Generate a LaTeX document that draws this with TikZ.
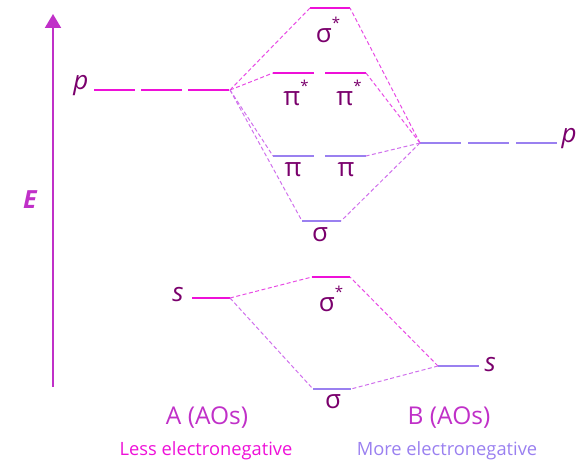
\documentclass[tikz,border=0pt]{standalone}
\usepackage{fontspec}
\setmainfont{Open Sans}
\usepackage{tikz}
\usetikzlibrary{arrows.meta}
\definecolor{levA}{HTML}{EE10D8}
\definecolor{levB}{HTML}{9A80F0}
\definecolor{lab}{HTML}{7A006C}
\definecolor{axis}{HTML}{C030C8}
\definecolor{linkA}{HTML}{E84CE4}
\definecolor{linkB}{HTML}{D070EC}
\newcommand{\str}{\raisebox{1.05ex}{\fontsize{15}{15}\selectfont *}}
\tikzset{
  lvA/.style={levA,line width=2.5pt},
  lvB/.style={levB,line width=2.5pt},
  link/.style={linkA,line width=1pt,dash pattern=on 4pt off 2.5pt},
  linkb/.style={linkB,line width=1pt,dash pattern=on 4pt off 2.5pt},
  orb/.style={lab,font=\fontsize{26}{28}\selectfont},
  ao/.style={lab,font=\fontsize{26}{28}\selectfont\itshape}
}

\begin{document}
\begin{tikzpicture}[x=1pt,y=-1pt]
        \useasboundingbox (0,0) rectangle (587,465);
        % energy axis
        \coordinate(E0) at (53,387);
        \coordinate(E1) at (53,14);
        \draw[axis,line width=2pt,-{Triangle[length=14pt,width=16pt]}](E0)--(E1);
        \node[axis,font=\fontsize{25}{26}\selectfont\bfseries\itshape](Elab) at (30,200) {E};

        % atom A, p
        \coordinate(pA0) at (94,90);
        \coordinate(pA1) at (230,90);
        \draw[lvA,dash pattern=on 41pt off 6pt](pA0)--(pA1);
        \node[ao,anchor=east](pAlab) at (92,86) {p};
        % atom B, p
        \coordinate(pB0) at (420,143);
        \coordinate(pB1) at (558,143);
        \draw[lvB,dash pattern=on 41pt off 7pt](pB0)--(pB1);
        \node[ao,anchor=west](pBlab) at (558,139) {p};

        % MOs from p
        \coordinate(sgs0) at (310,8);   \coordinate(sgs1) at (350,8);
        \coordinate(pis0) at (273,73);  \coordinate(pis1) at (314,73);
        \coordinate(pis2) at (325,73);  \coordinate(pis3) at (366,73);
        \coordinate(pi0) at (273,156);  \coordinate(pi1) at (314,156);
        \coordinate(pi2) at (325,156);  \coordinate(pi3) at (366,156);
        \coordinate(sg0) at (302,221);  \coordinate(sg1) at (341,221);
        \draw[lvA](sgs0)--(sgs1);
        \draw[lvA](pis0)--(pis1);
        \draw[lvA](pis2)--(pis3);
        \draw[lvB](pi0)--(pi1);
        \draw[lvB](pi2)--(pi3);
        \draw[lvB](sg0)--(sg1);
        \node[orb](sgslab) at (328,30) {σ\str};
        \node[orb](pislab1) at (296,93) {π\str};
        \node[orb](pislab2) at (349,93) {π\str};
        \node[orb](pilab1) at (293,170) {π};
        \node[orb](pilab2) at (346,170) {π};
        \node[orb](sglab) at (320,235) {σ};

        \draw[link](pA1)--(sgs0);
        \draw[link](pA1)--(pis0);
        \draw[linkb](pA1)--(pi0);
        \draw[linkb](pA1)--(sg0);
        \draw[link](pB0)--(sgs1);
        \draw[link](pB0)--(pis3);
        \draw[linkb](pB0)--(pi3);
        \draw[linkb](pB0)--(sg1);

        % s levels
        \coordinate(sA0) at (192,298); \coordinate(sA1) at (230,298);
        \coordinate(sB0) at (438,366); \coordinate(sB1) at (479,366);
        \coordinate(ss0) at (312,277); \coordinate(ss1) at (350,277);
        \coordinate(s0) at (313,389);  \coordinate(s1) at (351,389);
        \draw[lvA](sA0)--(sA1);
        \draw[lvB](sB0)--(sB1);
        \draw[lvA](ss0)--(ss1);
        \draw[lvB](s0)--(s1);
        \node[ao,anchor=east](sAlab) at (187,295) {s};
        \node[ao,anchor=west](sBlab) at (481,365) {s};
        \node[orb](sslab) at (331,299) {σ\str};
        \node[orb](slab) at (333,402) {σ};

        \draw[link](sA1)--(ss0);
        \draw[linkb](sA1)--(s0);
        \draw[link](sB0)--(ss1);
        \draw[linkb](sB0)--(s1);

        % captions
        \node[axis,font=\fontsize{24.5}{26}\selectfont](Alab) at (207,418) {A (AOs)};
        \node[axis,font=\fontsize{24.5}{26}\selectfont](Blab) at (449,418) {B (AOs)};
        \node[levA,font=\fontsize{18.3}{20}\selectfont](Aneg) at (206,451) {Less electronegative};
        \node[levB,font=\fontsize{18.3}{20}\selectfont](Bneg) at (447,451) {More electronegative};
    \end{tikzpicture}
\end{document}
